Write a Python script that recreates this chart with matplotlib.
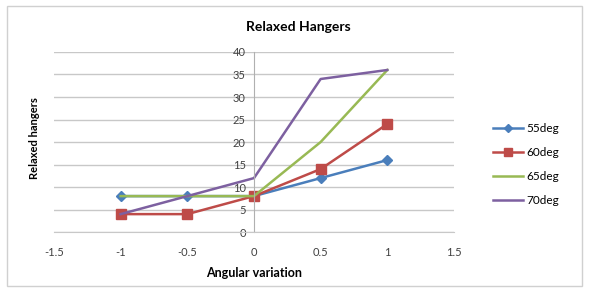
import numpy as np
import matplotlib.pyplot as plt
from matplotlib.patches import Rectangle

plt.rcParams['font.family'] = ['Lato', 'DejaVu Sans']

x = [-1, -0.5, 0, 0.5, 1]
deg55 = [8, 8, 8, 12, 16]
deg60 = [4, 4, 8, 14, 24]
deg65 = [8, 8, 8, 20, 36]
deg70 = [4, 8, 12, 34, 36]
labels = ['55deg', '60deg', '65deg', '70deg']

fig = plt.figure(figsize=(5.89, 2.92), dpi=100)
ax = fig.add_axes([0.0917, 0.205, 0.679, 0.617])

# outer chart border
fig.patches.append(Rectangle((0.012, 0.02), 0.976, 0.96, transform=fig.transFigure,
                             fill=False, edgecolor='#d0d0d0', lw=1))

ax.plot(x, deg55, color='#4a7ebb', marker='D', markersize=5, lw=1.8, label=labels[0])
ax.plot(x, deg60, color='#be4b48', marker='s', markersize=7, lw=1.8, label=labels[1])
ax.plot(x, deg65, color='#98b954', lw=1.8, label=labels[2])
ax.plot(x, deg70, color='#7d60a0', lw=1.8, label=labels[3])

ax.set_xlim(-1.5, 1.5)
ax.set_ylim(0, 40)
ax.set_xticks(np.arange(-1.5, 1.51, 0.5))
ax.set_xticklabels(['-1.5', '-1', '-0.5', '0', '0.5', '1', '1.5'])
ax.set_yticks(range(0, 41, 5))

ax.grid(axis='y', color='#c8c8c8', lw=1)
ax.set_axisbelow(True)
for s in ['top', 'right']:
    ax.spines[s].set_visible(False)
ax.spines['left'].set_position(('data', 0))
ax.spines['left'].set_color('#b0b0b0')
ax.spines['bottom'].set_color('#c8c8c8')
ax.tick_params(axis='y', length=0, labelsize=8, colors='#404040', pad=6)
ax.tick_params(axis='x', length=0, labelsize=8, colors='#404040', pad=11)

fig.text(0.506, 0.908, 'Relaxed Hangers', fontsize=10, fontweight='bold',
         ha='center', va='center')
ax.set_xlabel('Angular variation', fontsize=9, fontweight='bold', labelpad=6)
ax.set_ylabel('Relaxed hangers', fontsize=8, fontweight='bold')
ax.yaxis.set_label_coords(-0.035, 0.52)

ax.legend(loc='center left', bbox_to_anchor=(1.07, 0.375), frameon=False,
          fontsize=8.5, handlelength=2.6, labelspacing=1.1, handletextpad=0.3,
          markerscale=0.8)

plt.savefig('out.png')
